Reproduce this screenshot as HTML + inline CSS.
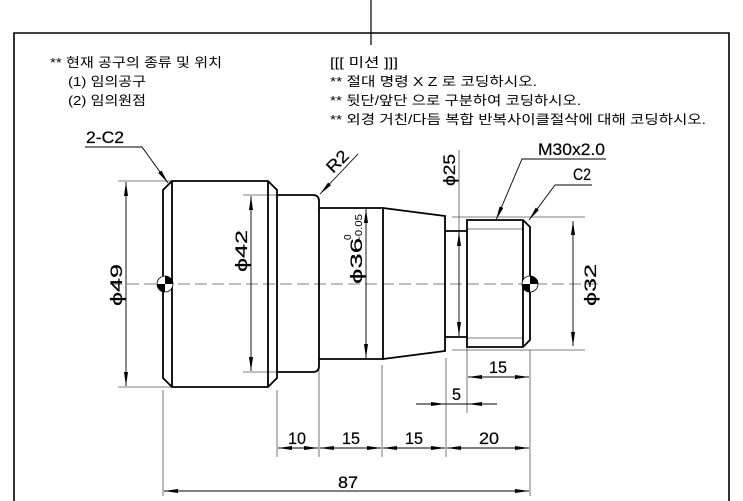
<!DOCTYPE html>
<html><head><meta charset="utf-8"><style>
html,body{margin:0;padding:0;background:#fff;}
svg{display:block;}
text{font-family:"Liberation Sans","Noto Sans CJK KR",sans-serif;fill:#000;}
.k{font-size:13px;}
.d{font-size:17px;stroke:#000;stroke-width:0.2;}
</style></head><body>
<svg width="743" height="501" viewBox="0 0 743 501" xmlns="http://www.w3.org/2000/svg">
<defs>
<marker id="b" viewBox="0 0 14 4" refX="14" refY="2" markerWidth="14" markerHeight="4" orient="auto-start-reverse" markerUnits="userSpaceOnUse"><path d="M0,0 L14,2 L0,4 z" fill="#000"/></marker>
</defs>
<path d="M14,505 V33 H729 V505" fill="none" stroke="#000" stroke-width="1.6"/>
<line x1="371" y1="0" x2="371" y2="45" stroke="#000" stroke-width="1.2"/>
<text class="k" x="50" y="67" textLength="172" lengthAdjust="spacingAndGlyphs">** 현재 공구의 종류 및 위치</text>
<text class="k" x="68" y="86" textLength="78" lengthAdjust="spacingAndGlyphs">(1) 임의공구</text>
<text class="k" x="68" y="105" textLength="78" lengthAdjust="spacingAndGlyphs">(2) 임의원점</text>
<text class="k" x="330" y="67" textLength="68" lengthAdjust="spacingAndGlyphs">[[[ 미션 ]]]</text>
<text class="k" x="330" y="86" textLength="207" lengthAdjust="spacingAndGlyphs">** 절대 명령 X Z 로 코딩하시오.</text>
<text class="k" x="330" y="105" textLength="251" lengthAdjust="spacingAndGlyphs">** 뒷단/앞단 으로 구분하여 코딩하시오.</text>
<text class="k" x="330" y="124" textLength="376" lengthAdjust="spacingAndGlyphs">** 외경 거친/다듬 복합 반복사이클절삭에 대해 코딩하시오.</text>

<line x1="110" y1="284" x2="600" y2="284" stroke="#555" stroke-width="0.8" stroke-dasharray="12,5"/>

<g stroke="#555" stroke-width="0.8" fill="none">
<line x1="118" y1="181" x2="172" y2="181"/>
<line x1="118" y1="387" x2="172" y2="387"/>
<line x1="243" y1="195" x2="277" y2="195"/>
<line x1="243" y1="372" x2="277" y2="372"/>
<line x1="452" y1="217" x2="585" y2="217"/>
<line x1="452" y1="350" x2="585" y2="350"/>
<line x1="163" y1="390" x2="163" y2="496"/>
<line x1="277" y1="390" x2="277" y2="457"/>
<line x1="319" y1="362" x2="319" y2="457"/>
<line x1="382" y1="365" x2="382" y2="457"/>
<line x1="446" y1="358" x2="446" y2="457"/>
<line x1="530" y1="350" x2="530" y2="496"/>
<line x1="467" y1="340" x2="467" y2="413"/>
<line x1="459" y1="150" x2="459" y2="231"/>
<line x1="467" y1="229" x2="523" y2="229"/>
<line x1="467" y1="338" x2="523" y2="338"/>
</g>

<g stroke="#000" stroke-width="1.8" fill="none">
<path d="M172,181 H268 L277,190 V378 L268,387 H172 L163,378 V190 Z"/>
<line x1="172" y1="181" x2="172" y2="387"/>
<line x1="268" y1="181" x2="268" y2="387"/>
<path d="M277,195 H313 Q319,195 319,201 V366 Q319,372 313,372 H277"/>
<path d="M319,208 H383 V359 H319"/>
<path d="M383,208 L445,216 V351 L383,359"/>
<path d="M445,231 H467 M445,337 H467"/>
<path d="M467,220 H523 L530,227 V340 L523,347 H467 Z"/>
<line x1="523" y1="220" x2="523" y2="347"/>
</g>

<g>
<circle cx="165" cy="284" r="8" fill="#fff" stroke="#000" stroke-width="0.8"/>
<path d="M165,284 V276 A8,8 0 0 1 173,284 Z" fill="#000"/>
<path d="M165,284 V292 A8,8 0 0 1 157,284 Z" fill="#000"/>
<circle cx="530" cy="284" r="8" fill="#fff" stroke="#000" stroke-width="0.8"/>
<path d="M530,284 V276 A8,8 0 0 1 538,284 Z" fill="#000"/>
<path d="M530,284 V292 A8,8 0 0 1 522,284 Z" fill="#000"/>
</g>

<g stroke="#000" stroke-width="0.9" fill="none">
<line x1="126" y1="182" x2="126" y2="386" marker-start="url(#b)" marker-end="url(#b)"/>
<line x1="251" y1="196" x2="251" y2="371" marker-start="url(#b)" marker-end="url(#b)"/>
<line x1="366" y1="209" x2="366" y2="358" marker-start="url(#b)" marker-end="url(#b)"/>
<line x1="459" y1="232" x2="459" y2="336" marker-start="url(#b)" marker-end="url(#b)"/>
<line x1="573" y1="221" x2="573" y2="346" marker-start="url(#b)" marker-end="url(#b)"/>
<line x1="278" y1="448" x2="318" y2="448" marker-start="url(#b)" marker-end="url(#b)"/>
<line x1="320" y1="448" x2="381" y2="448" marker-start="url(#b)" marker-end="url(#b)"/>
<line x1="383" y1="448" x2="445" y2="448" marker-start="url(#b)" marker-end="url(#b)"/>
<line x1="447" y1="448" x2="529" y2="448" marker-start="url(#b)" marker-end="url(#b)"/>
<line x1="164" y1="491" x2="529" y2="491" marker-start="url(#b)" marker-end="url(#b)"/>
<line x1="468" y1="377" x2="529" y2="377" marker-start="url(#b)" marker-end="url(#b)"/>
<line x1="416" y1="404" x2="445" y2="404" marker-end="url(#b)"/>
<line x1="497" y1="404" x2="468" y2="404" marker-end="url(#b)"/>
<line x1="445" y1="404" x2="468" y2="404"/>
<polyline points="85,147 142,147 168,183" marker-end="url(#b)"/>
<line x1="358" y1="154" x2="320" y2="194" marker-end="url(#b)"/>
<polyline points="606,159 522,159 496,220" marker-end="url(#b)"/>
<polyline points="592,185 555,185 529,220" marker-end="url(#b)"/>
</g>

<text class="d" x="86" y="143" textLength="38" lengthAdjust="spacingAndGlyphs">2-C2</text>
<text class="d" x="538" y="155" textLength="67" lengthAdjust="spacingAndGlyphs">M30x2.0</text>
<text class="d" x="573" y="180" textLength="18" lengthAdjust="spacingAndGlyphs">C2</text>
<text class="d" transform="translate(333,174) rotate(-45)" textLength="24" lengthAdjust="spacingAndGlyphs">R2</text>
<text class="d" transform="translate(122,306) rotate(-90)" textLength="42" lengthAdjust="spacingAndGlyphs">ϕ49</text>
<text class="d" transform="translate(247,272) rotate(-90)" textLength="42" lengthAdjust="spacingAndGlyphs">ϕ42</text>
<text class="d" transform="translate(362,284) rotate(-90)" textLength="46" lengthAdjust="spacingAndGlyphs">ϕ36</text>
<text style="font-size:10px" transform="translate(351,240) rotate(-90)">0</text>
<text style="font-size:10px" transform="translate(362,240) rotate(-90)" textLength="26" lengthAdjust="spacingAndGlyphs">-0.05</text>
<text class="d" transform="translate(455,186) rotate(-90)" textLength="32" lengthAdjust="spacingAndGlyphs">ϕ25</text>
<text class="d" transform="translate(596,306) rotate(-90)" textLength="42" lengthAdjust="spacingAndGlyphs">ϕ32</text>
<text class="d" x="288" y="444" textLength="18" lengthAdjust="spacingAndGlyphs">10</text>
<text class="d" x="342" y="444" textLength="18" lengthAdjust="spacingAndGlyphs">15</text>
<text class="d" x="405" y="444" textLength="18" lengthAdjust="spacingAndGlyphs">15</text>
<text class="d" x="479" y="444" textLength="20" lengthAdjust="spacingAndGlyphs">20</text>
<text class="d" x="338" y="488" textLength="20" lengthAdjust="spacingAndGlyphs">87</text>
<text class="d" x="489" y="373" textLength="18" lengthAdjust="spacingAndGlyphs">15</text>
<text class="d" x="452" y="400" textLength="9" lengthAdjust="spacingAndGlyphs">5</text>
</svg>
</body></html>
